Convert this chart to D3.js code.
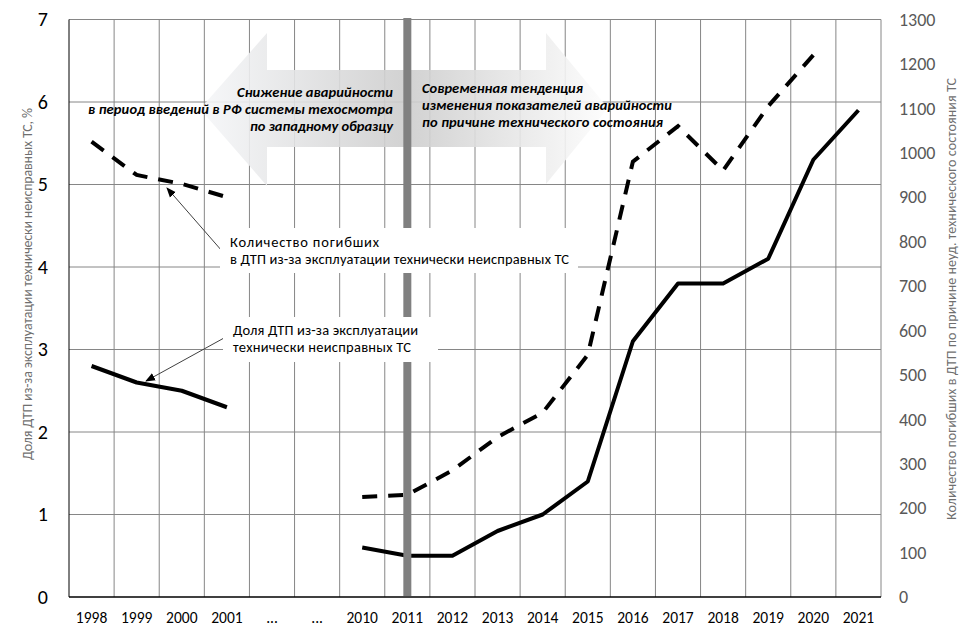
<!DOCTYPE html>
<html>
<head>
<meta charset="utf-8">
<script src="https://cdn.jsdelivr.net/npm/d3@7"></script>
<style>
  html, body { margin: 0; padding: 0; background: #fff; }
  svg text { font-family: Carlito, Calibri, "Liberation Sans", Arial, sans-serif; }
</style>
</head>
<body>
<div id="chart"></div>
<script>
// Data
const categories = ['1998', '1999', '2000', '2001', '...', '...', '2010', '2011', '2012',
    '2013', '2014', '2015', '2016', '2017', '2018', '2019', '2020', '2021'];
// share of accidents caused by faulty vehicles, % (left axis)
const shareValues = [2.8, 2.6, 2.5, 2.3, null, null, 0.6, 0.5, 0.5, 0.8, 1.0, 1.4, 3.1, 3.8, 3.8, 4.1, 5.3, 5.9];
// deaths in such accidents (right axis)
const deathValues = [1025, 950, 930, 900, null, null, 225, 230, 285, 360, 415, 545, 980, 1060, 960, 1105, 1220, null];
const leftTicks = [0, 1, 2, 3, 4, 5, 6, 7];
const rightTicks = [0, 100, 200, 300, 400, 500, 600, 700, 800, 900, 1000, 1100, 1200, 1300];
const markerYear = '2011';

const leftArrowLines = ['Снижение аварийности', 'в период введений в РФ системы техосмотра', 'по западному образцу'];
const rightArrowLines = ['Современная тенденция', 'изменения показателей аварийности', 'по причине технического состояния'];
const deathsNote = ['Количество погибших', 'в ДТП из-за эксплуатации технически неисправных ТС'];
const shareNote = ['Доля ДТП из-за эксплуатации', 'технически неисправных ТС'];

// Layout
const config = {
    width: 975,
    height: 636,
    margin: { top: 19.5, right: 94, bottom: 39, left: 69 },
    grid: '#868686'
};
const innerLeft = config.margin.left;
const innerRight = config.width - config.margin.right;
const innerTop = config.margin.top;
const innerBottom = config.height - config.margin.bottom;

const svg = d3.select('#chart')
    .append('svg')
    .attr('width', config.width)
    .attr('height', config.height);

const x = d3.scaleBand()
    .domain(d3.range(categories.length))
    .range([innerLeft, innerRight]);
const yLeft = d3.scaleLinear().domain([0, 7]).range([innerBottom, innerTop]);
const yRight = d3.scaleLinear().domain([0, 1300]).range([innerBottom, innerTop]);

// Gradients for the big arrows
const defs = svg.append('defs');
const gradLeft = defs.append('linearGradient')
    .attr('id', 'gradLeft')
    .attr('gradientUnits', 'userSpaceOnUse')
    .attr('x1', 407).attr('x2', 200).attr('y1', 0).attr('y2', 0);
gradLeft.append('stop').attr('offset', 0).attr('stop-color', '#cdcdcd');
gradLeft.append('stop').attr('offset', 1).attr('stop-color', '#f6f7f9');
const gradRight = defs.append('linearGradient')
    .attr('id', 'gradRight')
    .attr('gradientUnits', 'userSpaceOnUse')
    .attr('x1', 407).attr('x2', 608).attr('y1', 0).attr('y2', 0);
gradRight.append('stop').attr('offset', 0).attr('stop-color', '#cdcdcd');
gradRight.append('stop').attr('offset', 1).attr('stop-color', '#fdfdfd');

defs.append('marker')
    .attr('id', 'arrowHead')
    .attr('viewBox', '0 0 10 10')
    .attr('refX', 9).attr('refY', 5)
    .attr('markerWidth', 10).attr('markerHeight', 10)
    .attr('markerUnits', 'userSpaceOnUse')
    .attr('orient', 'auto')
    .append('path')
    .attr('d', 'M0,1 L10,5 L0,9 Z')
    .attr('fill', '#000');

// Horizontal gridlines
svg.append('g')
    .selectAll('line')
    .data(leftTicks.slice(1))
    .join('line')
    .attr('x1', innerLeft).attr('x2', innerRight)
    .attr('y1', d => yLeft(d)).attr('y2', d => yLeft(d))
    .attr('stroke', config.grid);

// Vertical gridlines at category boundaries
svg.append('g')
    .selectAll('line')
    .data(d3.range(1, categories.length + 1))
    .join('line')
    .attr('x1', i => i < categories.length ? x(i) : x.range()[1])
    .attr('x2', i => i < categories.length ? x(i) : x.range()[1])
    .attr('y1', innerTop).attr('y2', innerBottom)
    .attr('stroke', config.grid);

// Big arrows
const leftArrow = [[200, 109], [267, 33], [267, 70], [407, 70], [407, 147], [267, 147], [267, 186]];
const rightArrow = [[407, 70], [546, 70], [546, 33], [608, 108], [546, 184], [546, 147], [407, 147]];
svg.append('polygon')
    .attr('points', leftArrow.join(' '))
    .attr('fill', 'url(#gradLeft)')
    .attr('fill-opacity', 0.9);
svg.append('polygon')
    .attr('points', rightArrow.join(' '))
    .attr('fill', 'url(#gradRight)')
    .attr('fill-opacity', 0.9);

// Axes lines
svg.append('line')
    .attr('x1', innerLeft).attr('x2', innerLeft)
    .attr('y1', innerTop).attr('y2', innerBottom)
    .attr('stroke', '#000');
svg.append('line')
    .attr('x1', innerLeft).attr('x2', innerRight)
    .attr('y1', innerBottom).attr('y2', innerBottom)
    .attr('stroke', '#000').attr('stroke-width', 1.5);

// Tick labels
const leftAxis = svg.append('g')
    .attr('transform', `translate(${innerLeft},0)`)
    .call(d3.axisLeft(yLeft).tickValues(leftTicks).tickFormat(d3.format('d')).tickSize(0).tickPadding(21));
leftAxis.select('.domain').remove();
leftAxis.selectAll('text')
    .attr('font-family', null)
    .style('font-size', '20px')
    .attr('fill', '#000');

const rightAxis = svg.append('g')
    .attr('transform', `translate(${innerRight},0)`)
    .call(d3.axisRight(yRight).tickValues(rightTicks).tickFormat(d3.format('d')).tickSize(0).tickPadding(18));
rightAxis.select('.domain').remove();
rightAxis.selectAll('text')
    .attr('font-family', null)
    .style('font-size', '18px')
    .attr('fill', '#595959');

const bottomAxis = svg.append('g')
    .attr('transform', `translate(0,${innerBottom})`)
    .call(d3.axisBottom(x).tickSize(0).tickPadding(15).tickFormat(i => categories[i]));
bottomAxis.select('.domain').remove();
bottomAxis.selectAll('text')
    .attr('font-family', null)
    .style('font-size', '15.5px')
    .attr('fill', '#000');

// Axis titles
svg.append('text')
    .attr('transform', 'translate(32,284) rotate(-90)')
    .attr('text-anchor', 'middle')
    .attr('textLength', 352)
    .style('font-size', '14px')
    .attr('fill', '#6f6f6f')
    .text('Доля ДТП из-за эксплуатации технически неисправных ТС, %');
svg.append('text')
    .attr('transform', 'translate(956,299) rotate(-90)')
    .attr('text-anchor', 'middle')
    .attr('textLength', 442)
    .style('font-size', '14px')
    .attr('fill', '#6f6f6f')
    .text('Количество погибших в ДТП по причине неуд. технического состояния ТС');

// Series lines
const cx = i => x(i) + x.bandwidth() / 2;
const shareLine = d3.line()
    .defined(d => d != null)
    .x((d, i) => cx(i))
    .y(d => yLeft(d));
const deathLine = d3.line()
    .defined(d => d != null)
    .x((d, i) => cx(i))
    .y(d => yRight(d));

svg.append('path')
    .datum(deathValues)
    .attr('d', deathLine)
    .attr('fill', 'none')
    .attr('stroke', '#000')
    .attr('stroke-width', 4)
    .attr('stroke-dasharray', '15,11');
svg.append('path')
    .datum(shareValues)
    .attr('d', shareLine)
    .attr('fill', 'none')
    .attr('stroke', '#000')
    .attr('stroke-width', 4)
    .attr('stroke-linejoin', 'round');

// Thick gray marker at 2011
const markerX = cx(categories.indexOf(markerYear));
svg.append('line')
    .attr('x1', markerX).attr('x2', markerX)
    .attr('y1', 18).attr('y2', innerBottom - 1)
    .attr('stroke', '#808080')
    .attr('stroke-width', 8);

// Arrow texts
const leftWidths = [156, 305, 143];
svg.append('g')
    .selectAll('text')
    .data(leftArrowLines)
    .join('text')
    .attr('x', 393)
    .attr('y', (d, i) => 97 + i * 17)
    .attr('text-anchor', 'end')
    .attr('textLength', (d, i) => leftWidths[i])
    .style('font-size', '14.5px')
    .style('font-weight', 'bold')
    .style('font-style', 'italic')
    .attr('fill', '#000')
    .text(d => d);

const rightWidths = [161, 250, 241];
svg.append('g')
    .selectAll('text')
    .data(rightArrowLines)
    .join('text')
    .attr('x', 422)
    .attr('y', (d, i) => 93 + i * 17)
    .attr('textLength', (d, i) => rightWidths[i])
    .style('font-size', '14.5px')
    .style('font-weight', 'bold')
    .style('font-style', 'italic')
    .attr('fill', '#000')
    .text(d => d);

// Callouts
function callout(lines, box, widths, from, to) {
    svg.append('line')
        .attr('x1', from[0]).attr('y1', from[1])
        .attr('x2', to[0]).attr('y2', to[1])
        .attr('stroke', '#404040')
        .attr('stroke-width', 1)
        .attr('marker-end', 'url(#arrowHead)');
    svg.append('rect')
        .attr('x', box.x).attr('y', box.y)
        .attr('width', box.w).attr('height', box.h)
        .attr('fill', '#fff');
    svg.append('g')
        .selectAll('text')
        .data(lines)
        .join('text')
        .attr('x', box.x + box.tx)
        .attr('y', (d, i) => box.y + box.ty + i * 17)
        .attr('textLength', (d, i) => widths[i])
        .style('font-size', '14.5px')
        .attr('fill', '#000')
        .text(d => d);
}

callout(deathsNote, { x: 220, y: 228, w: 358, h: 45, tx: 10, ty: 19 }, [149, 339],
    [222, 251], [167, 188]);
callout(shareNote, { x: 223, y: 317, w: 215, h: 45, tx: 10, ty: 18 }, [185, 178],
    [224, 338], [146, 381]);
</script>
</body>
</html>
